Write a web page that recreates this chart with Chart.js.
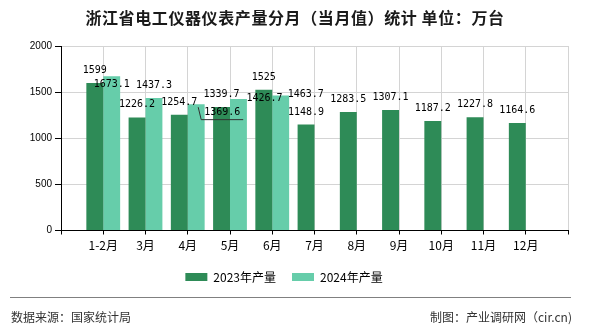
<!DOCTYPE html>
<html>
<head>
<meta charset="utf-8">
<script src="https://cdn.jsdelivr.net/npm/chart.js@4/dist/chart.umd.min.js"></script>
<style>
  body { margin: 0; width: 590px; height: 330px; background: #fff; position: relative; overflow: hidden; font-family: "Noto Sans CJK SC", sans-serif; }
  #wrap { position: absolute; left: 0; top: 0; width: 590px; height: 330px; }
  #title { position: absolute; left: 0; top: 7px; width: 590px; text-align: center; font-size: 16px; line-height: 20px; font-weight: bold; letter-spacing: 0.6px; color: #1a1a1a; }
  #rule { position: absolute; left: 10px; top: 297px; width: 561px; height: 0; border-top: 1px solid #808080; }
  .foot { position: absolute; top: 308px; font-size: 12px; line-height: 17px; color: #333; }
</style>
</head>
<body>
<div id="wrap"><canvas id="chart"></canvas></div>
<div id="title">浙江省电工仪器仪表产量分月（当月值）统计 单位：万台</div>
<div id="rule"></div>
<div class="foot" style="left:11px">数据来源：国家统计局</div>
<div class="foot" style="right:18px">制图：产业调研网（cir.cn)</div>
<script>
// 月份 (1-2月合并)
var months = ['1-2月', '3月', '4月', '5月', '6月', '7月', '8月', '9月', '10月', '11月', '12月'];
// 产量, 万台
var output2023 = [1599, 1226.2, 1254.7, 1339.7, 1525, 1148.9, 1283.5, 1307.1, 1187.2, 1227.8, 1164.6];
var output2024 = [1673.1, 1437.3, 1369.6, 1426.7, 1463.7, null, null, null, null, null, null];
var yTicks = [0, 500, 1000, 1500, 2000];

// la etiqueta se mueve para no tapar a las otras (dx, dy)
var shift2024 = [[0, 21], [0, 0], [26, 20.5], [26, 12], [25, 11]];

// eje con un hueco vacio al principio y al final
var axisLabels = [''].concat(months, ['']);
var pad = function (arr) { return [null].concat(arr, [null]); };

var valueLabels = {
  id: 'valueLabels',
  afterDatasetsDraw: function (chart) {
    var ctx = chart.ctx;
    ctx.save();
    ctx.font = '10px "DejaVu Sans Mono", monospace';
    ctx.fillStyle = '#000';
    ctx.textAlign = 'center';
    ctx.textBaseline = 'middle';
    chart.data.datasets.forEach(function (ds, di) {
      chart.getDatasetMeta(di).data.forEach(function (bar, i) {
        var v = ds.data[i];
        if (v == null) return;
        var s = (di === 1 && shift2024[i - 1]) || [0, 0];
        ctx.fillText(String(v), bar.x + s[0], bar.y - 12.5 + s[1]);
        // linea guia de la etiqueta de abril 2024
        if (di === 1 && i === 3) {
          ctx.strokeStyle = '#333';
          ctx.lineWidth = 1;
          ctx.beginPath();
          ctx.moveTo(bar.x + 2, bar.y + 3);
          ctx.lineTo(bar.x + 5, bar.y + 15.5);
          ctx.lineTo(bar.x + 47, bar.y + 15.5);
          ctx.stroke();
        }
      });
    });
    ctx.restore();
  }
};

var grey = '#d4d4d4';
var chart = new Chart(document.getElementById('chart'), {
  type: 'bar',
  data: {
    labels: axisLabels,
    datasets: [{
      label: '2023年产量',
      data: pad(output2023),
      backgroundColor: '#2e8b57',
      categoryPercentage: 0.8,
      barPercentage: 1
    }, {
      label: '2024年产量',
      data: pad(output2024),
      backgroundColor: '#66cdaa',
      categoryPercentage: 0.8,
      barPercentage: 1
    }]
  },
  options: {
    responsive: true,
    maintainAspectRatio: false,
    animation: false,
    layout: { padding: { top: 46, left: 0, right: 22, bottom: 37 } },
    scales: {
      x: {
        offset: false,
        grid: { offset: false, color: grey, tickColor: '#000', tickLength: 4 },
        border: { color: '#000' },
        ticks: { autoSkip: false, maxRotation: 0, padding: 4, color: '#000',
          font: { size: 12, family: '"Noto Sans CJK SC", sans-serif' } },
        afterFit: function (s) { s.height = 24.5; }
      },
      y: {
        min: 0,
        max: 2000,
        grid: { color: grey, tickColor: '#000', tickLength: 6 },
        border: { color: '#000' },
        ticks: { padding: 3, color: '#000', font: { size: 10, family: '"Liberation Sans", sans-serif' },
          callback: function (v) { return String(v); } },
        afterBuildTicks: function (s) { s.ticks = yTicks.map(function (v) { return { value: v }; }); },
        afterFit: function (s) { s.width = 61; }
      }
    },
    plugins: {
      legend: {
        position: 'bottom',
        labels: { boxWidth: 22, boxHeight: 8, padding: 16, color: '#000',
          font: { size: 12, family: '"Noto Sans CJK SC", sans-serif' } }
      },
      tooltip: { enabled: false }
    }
  },
  plugins: [valueLabels]
});
</script>
</body>
</html>
